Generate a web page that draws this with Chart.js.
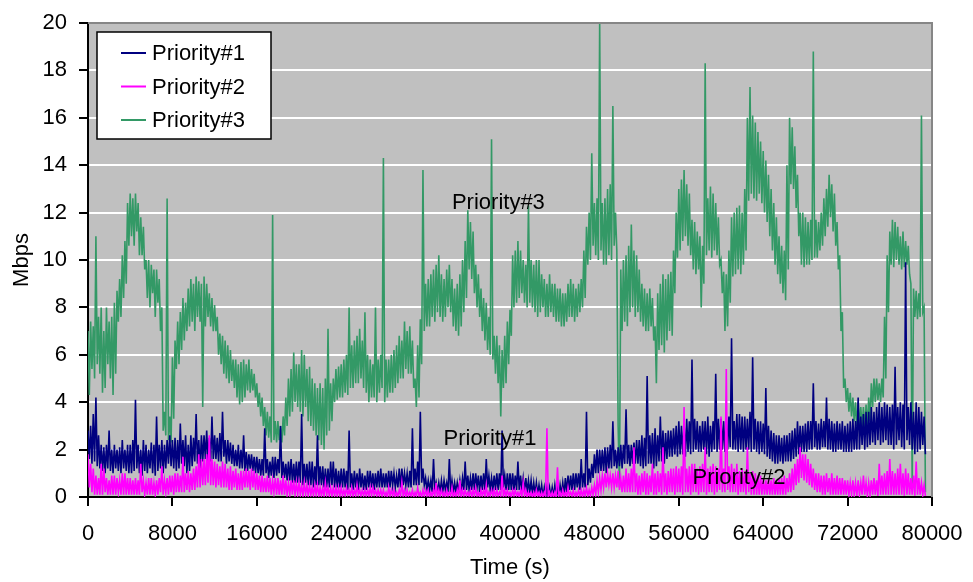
<!DOCTYPE html>
<html>
<head>
<meta charset="utf-8">
<title>Priority traffic</title>
<script src="https://cdn.jsdelivr.net/npm/chart.js@4.4.1/dist/chart.umd.min.js"></script>
<style>
  html, body { margin: 0; padding: 0; background: #fff; }
  canvas { display: block; }
</style>
</head>
<body>
<canvas id="myChart" width="973" height="582"></canvas>
<script>
// Readings every 250 s: top and bottom of each trace's band at that time.
// Each reading pair is plotted as two points 125 s apart, as in the dense trace.
const sampleStep = 250;

const priority1Upper = [
  2.8, 3.0, 3.5, 4.2, 2.6, 2.2, 2.1, 2.2, 2.8, 2.0, 2.2, 2.0, 2.1, 2.4, 2.0, 2.2,
  2.2, 2.4, 4.1, 2.2, 2.0, 2.4, 2.2, 2.0, 2.3, 2.2, 3.4, 2.2, 2.4, 2.2, 2.4, 2.6,
  2.4, 2.5, 2.4, 3.1, 2.4, 2.6, 2.2, 2.6, 2.5, 3.5, 2.4, 2.6, 2.6, 2.8, 2.5, 3.4,
  2.6, 2.5, 2.7, 3.6, 2.4, 2.4, 2.3, 2.2, 2.0, 2.2, 2.0, 2.6, 1.9, 1.8, 1.8, 1.7,
  1.7, 1.6, 1.6, 2.9, 1.6, 1.5, 1.7, 1.7, 1.6, 3.0, 1.5, 1.4, 1.5, 1.6, 1.4, 1.5,
  1.5, 3.5, 1.4, 1.4, 1.5, 1.5, 1.3, 2.6, 1.3, 1.3, 1.2, 1.2, 1.5, 1.5, 1.2, 1.1,
  1.2, 1.2, 1.1, 2.8, 1.0, 1.1, 1.0, 1.2, 1.0, 0.9, 1.1, 1.1, 1.0, 1.0, 1.1, 1.2,
  1.0, 1.0, 1.1, 1.1, 1.0, 0.9, 1.2, 1.2, 1.0, 1.0, 1.1, 2.9, 1.2, 1.5, 3.6, 1.2,
  0.8, 0.7, 0.7, 1.6, 0.6, 0.6, 0.7, 0.7, 0.6, 1.6, 0.7, 0.6, 0.6, 0.7, 0.8, 1.5,
  0.9, 0.8, 1.0, 1.0, 0.9, 0.9, 1.0, 1.6, 0.9, 0.8, 0.9, 1.0, 1.0, 2.8, 0.9, 1.0,
  1.0, 1.0, 0.9, 1.5, 0.9, 0.8, 0.8, 0.7, 0.7, 0.6, 0.6, 0.5, 0.5, 0.4, 0.4, 0.4,
  0.4, 0.5, 0.4, 0.5, 0.6, 0.8, 0.9, 0.9, 1.0, 1.0, 1.0, 1.6, 1.0, 3.6, 1.2, 1.4,
  1.8, 2.0, 2.0, 2.0, 2.1, 2.1, 2.2, 3.2, 2.0, 2.1, 2.2, 2.2, 3.7, 2.2, 2.2, 2.3,
  2.4, 2.4, 2.6, 2.5, 5.1, 2.6, 2.7, 2.9, 2.6, 3.4, 2.8, 2.7, 2.8, 2.8, 2.9, 3.0,
  3.2, 3.0, 3.1, 3.3, 3.2, 5.8, 3.3, 3.2, 3.0, 3.2, 3.2, 3.4, 3.0, 3.2, 5.2, 3.3,
  3.3, 3.2, 3.4, 3.4, 6.7, 3.2, 3.5, 3.5, 3.4, 3.4, 3.3, 3.6, 5.9, 3.3, 3.2, 3.2,
  3.1, 4.6, 3.0, 2.8, 2.7, 2.6, 2.6, 2.5, 2.6, 2.6, 2.7, 2.8, 2.9, 3.2, 3.0, 3.0,
  3.1, 3.2, 3.2, 4.8, 3.2, 3.1, 3.3, 3.2, 4.2, 3.3, 3.2, 3.1, 3.2, 3.1, 3.2, 3.0,
  3.1, 3.2, 3.3, 3.2, 4.2, 3.4, 3.5, 3.6, 3.6, 3.8, 3.6, 3.8, 4.0, 3.8, 4.0, 3.9,
  3.8, 3.9, 5.5, 3.8, 4.0, 3.9, 9.9, 3.8, 4.0, 3.6, 4.0, 3.8, 3.6, 3.4
];
const priority1Lower = [
  1.6, 1.4, 1.5, 1.3, 1.2, 1.1, 1.0, 1.2, 1.1, 1.0, 1.2, 1.1, 1.0, 1.2, 1.1, 1.0,
  1.0, 1.1, 1.2, 1.0, 0.9, 1.1, 1.0, 1.2, 1.0, 0.9, 1.1, 1.2, 1.0, 1.2, 1.4, 1.3,
  1.2, 1.1, 1.2, 1.4, 1.3, 1.0, 1.1, 1.3, 1.5, 1.4, 1.2, 1.5, 1.6, 1.5, 1.5, 1.6,
  1.6, 1.5, 1.5, 1.7, 1.4, 1.5, 1.4, 1.3, 1.3, 1.2, 1.2, 1.1, 1.1, 1.2, 1.1, 1.0,
  1.0, 0.9, 0.9, 1.0, 0.8, 0.9, 0.8, 0.9, 1.0, 0.8, 0.8, 0.7, 0.7, 0.6, 0.6, 0.6,
  0.6, 0.5, 0.6, 0.5, 0.5, 0.4, 0.5, 0.5, 0.5, 0.4, 0.4, 0.4, 0.5, 0.4, 0.4, 0.4,
  0.4, 0.4, 0.3, 0.4, 0.3, 0.4, 0.3, 0.4, 0.3, 0.3, 0.4, 0.4, 0.3, 0.4, 0.4, 0.4,
  0.4, 0.4, 0.4, 0.5, 0.4, 0.4, 0.4, 0.5, 0.5, 0.4, 0.4, 0.5, 0.5, 0.5, 0.6, 0.5,
  0.3, 0.3, 0.2, 0.3, 0.2, 0.2, 0.2, 0.3, 0.2, 0.2, 0.2, 0.2, 0.2, 0.2, 0.3, 0.3,
  0.3, 0.3, 0.3, 0.4, 0.2, 0.3, 0.3, 0.4, 0.3, 0.3, 0.3, 0.3, 0.3, 0.4, 0.3, 0.3,
  0.3, 0.3, 0.3, 0.3, 0.3, 0.2, 0.2, 0.2, 0.1, 0.1, 0.1, 0.1, 0.0, 0.0, 0.0, 0.0,
  0.0, 0.0, 0.0, 0.1, 0.1, 0.2, 0.3, 0.3, 0.3, 0.4, 0.3, 0.4, 0.4, 0.5, 0.6, 0.8,
  1.0, 1.0, 1.1, 1.1, 1.0, 1.2, 1.2, 1.3, 1.2, 1.3, 1.2, 1.4, 1.4, 1.3, 1.4, 1.4,
  1.4, 1.3, 1.2, 1.3, 1.4, 1.4, 1.2, 1.3, 1.5, 1.5, 1.4, 1.6, 1.7, 1.7, 1.8, 1.7,
  1.8, 1.8, 1.7, 1.9, 1.8, 1.9, 2.0, 1.9, 1.9, 2.0, 1.8, 1.7, 1.9, 2.0, 1.9, 2.0,
  2.0, 1.9, 2.0, 2.1, 2.0, 2.0, 1.9, 2.0, 1.9, 2.0, 2.0, 1.9, 2.0, 1.9, 1.8, 1.9,
  1.8, 1.7, 1.6, 1.5, 1.4, 1.4, 1.5, 1.4, 1.5, 1.5, 1.5, 1.6, 1.7, 1.8, 1.9, 1.9,
  1.9, 2.0, 2.0, 2.1, 2.0, 2.0, 2.1, 2.1, 2.0, 2.0, 1.9, 1.9, 2.0, 2.0, 1.9, 1.9,
  1.9, 1.9, 2.0, 2.0, 2.0, 2.2, 2.0, 2.1, 2.2, 2.3, 2.2, 2.4, 2.2, 2.3, 2.4, 2.2,
  2.2, 2.0, 2.2, 2.4, 2.1, 2.0, 2.4, 2.2, 2.0, 1.8, 1.9, 2.0, 2.2, 1.8
];

const priority2Upper = [
  1.8, 1.4, 1.2, 0.9, 0.8, 1.4, 1.2, 0.8, 0.7, 0.9, 0.9, 0.8, 0.7, 1.0, 1.0, 0.8,
  0.8, 0.7, 0.8, 0.7, 1.4, 0.7, 0.6, 0.8, 0.8, 0.6, 0.7, 0.8, 1.3, 0.7, 0.8, 0.9,
  0.9, 1.0, 1.0, 0.9, 1.7, 1.0, 1.1, 1.0, 1.2, 1.3, 1.8, 1.6, 1.6, 1.8, 2.6, 1.6,
  1.5, 1.4, 1.3, 1.5, 1.4, 1.2, 1.3, 1.1, 1.2, 1.0, 1.1, 1.1, 1.2, 1.1, 1.2, 1.1,
  1.0, 0.9, 0.9, 0.8, 0.9, 0.8, 0.7, 0.8, 0.8, 0.7, 0.9, 0.7, 0.6, 0.7, 0.7, 0.6,
  0.6, 0.5, 0.6, 0.5, 0.5, 0.4, 0.5, 0.5, 0.4, 0.4, 0.6, 0.4, 0.4, 0.4, 0.4, 0.4,
  0.4, 0.3, 0.4, 0.3, 0.4, 0.3, 0.5, 0.3, 0.3, 0.3, 0.3, 0.4, 0.4, 0.3, 0.3, 0.3,
  0.3, 0.2, 0.4, 0.3, 0.3, 0.2, 0.3, 0.6, 0.3, 0.3, 0.2, 0.3, 0.2, 0.4, 0.2, 0.3,
  0.3, 0.3, 0.2, 0.3, 0.6, 0.3, 0.3, 0.2, 0.3, 0.2, 0.4, 0.2, 0.3, 0.7, 0.3, 0.3,
  0.2, 0.3, 0.3, 0.4, 0.2, 0.3, 0.3, 0.5, 0.2, 0.3, 0.3, 0.3, 0.2, 0.9, 0.3, 0.3,
  0.2, 0.3, 0.3, 0.2, 0.3, 0.6, 0.3, 0.2, 0.2, 0.2, 0.3, 0.2, 0.2, 0.2, 2.9, 0.2,
  0.2, 0.2, 1.25, 0.2, 0.3, 0.2, 0.4, 0.2, 0.3, 0.2, 0.3, 0.3, 0.3, 0.4, 0.3, 0.4,
  0.5, 0.7, 0.8, 0.9, 1.0, 1.0, 0.9, 1.0, 0.9, 1.1, 0.8, 0.9, 1.2, 1.0, 1.2, 2.1,
  1.0, 0.9, 1.0, 1.1, 1.0, 0.9, 1.4, 1.0, 1.1, 1.0, 2.1, 1.0, 1.1, 1.2, 1.2, 1.3,
  1.2, 1.3, 3.8, 1.2, 1.3, 1.4, 1.4, 1.2, 1.3, 1.4, 2.1, 1.2, 1.3, 1.4, 1.3, 1.2,
  3.4, 1.2, 5.4, 1.3, 1.4, 1.2, 1.4, 1.1, 1.2, 1.1, 2.1, 1.0, 1.1, 1.0, 0.9, 0.9,
  0.8, 0.7, 0.8, 0.7, 0.8, 0.7, 0.8, 0.8, 0.9, 0.8, 1.0, 1.2, 1.4, 1.6, 2.1, 1.8,
  1.8, 1.6, 1.4, 1.2, 1.0, 1.0, 0.9, 0.9, 1.0, 0.8, 1.0, 0.8, 0.9, 0.8, 0.8, 0.7,
  0.7, 0.6, 0.7, 0.6, 0.7, 0.6, 0.9, 0.6, 0.6, 0.7, 0.8, 0.7, 1.4, 0.9, 1.0, 1.1,
  1.6, 1.1, 1.0, 1.2, 1.4, 1.0, 1.2, 1.0, 0.8, 0.9, 1.5, 0.8, 0.6, 0.5
];
const priority2Lower = [
  0.4, 0.2, 0.1, 0.1, 0.1, 0.1, 0.2, 0.1, 0.1, 0.1, 0.1, 0.2, 0.1, 0.1, 0.1, 0.1,
  0.1, 0.1, 0.1, 0.1, 0.2, 0.1, 0.1, 0.1, 0.1, 0.1, 0.1, 0.2, 0.1, 0.2, 0.1, 0.2,
  0.1, 0.2, 0.2, 0.2, 0.2, 0.3, 0.2, 0.3, 0.3, 0.4, 0.4, 0.5, 0.5, 0.6, 0.5, 0.5,
  0.4, 0.5, 0.4, 0.4, 0.4, 0.3, 0.3, 0.4, 0.3, 0.3, 0.3, 0.4, 0.4, 0.3, 0.4, 0.3,
  0.3, 0.2, 0.2, 0.2, 0.2, 0.1, 0.2, 0.1, 0.1, 0.1, 0.1, 0.1, 0.1, 0.1, 0.1, 0.1,
  0.1, 0.05, 0.1, 0.05, 0.1, 0.05, 0.1, 0.05, 0.05, 0.05, 0.1, 0.05, 0.05, 0.05, 0.05, 0.05,
  0.05, 0.05, 0.1, 0.05, 0.05, 0.05, 0.1, 0.05, 0.05, 0.05, 0.05, 0.05, 0.1, 0.05, 0.05, 0.05,
  0.05, 0.0, 0.05, 0.05, 0.0, 0.05, 0.05, 0.05, 0.0, 0.05, 0.05, 0.0, 0.05, 0.05, 0.0, 0.05,
  0.05, 0.0, 0.05, 0.05, 0.0, 0.05, 0.05, 0.0, 0.05, 0.05, 0.0, 0.05, 0.05, 0.0, 0.05, 0.05,
  0.05, 0.0, 0.05, 0.05, 0.0, 0.05, 0.05, 0.0, 0.05, 0.05, 0.0, 0.05, 0.05, 0.0, 0.05, 0.05,
  0.0, 0.05, 0.05, 0.0, 0.05, 0.05, 0.0, 0.05, 0.0, 0.0, 0.05, 0.0, 0.0, 0.05, 0.0, 0.0,
  0.0, 0.0, 0.05, 0.0, 0.05, 0.0, 0.05, 0.05, 0.0, 0.05, 0.05, 0.0, 0.05, 0.05, 0.05, 0.1,
  0.1, 0.2, 0.3, 0.4, 0.4, 0.5, 0.4, 0.4, 0.4, 0.3, 0.2, 0.2, 0.2, 0.2, 0.2, 0.2,
  0.1, 0.1, 0.2, 0.1, 0.1, 0.2, 0.1, 0.1, 0.2, 0.1, 0.2, 0.1, 0.2, 0.2, 0.1, 0.2,
  0.2, 0.1, 0.2, 0.2, 0.1, 0.2, 0.2, 0.1, 0.2, 0.2, 0.1, 0.2, 0.2, 0.1, 0.2, 0.3,
  0.2, 0.2, 0.3, 0.2, 0.2, 0.2, 0.1, 0.2, 0.2, 0.1, 0.2, 0.1, 0.1, 0.1, 0.1, 0.1,
  0.1, 0.1, 0.1, 0.1, 0.1, 0.1, 0.1, 0.1, 0.1, 0.2, 0.2, 0.3, 0.5, 0.6, 0.8, 0.7,
  0.6, 0.5, 0.4, 0.3, 0.2, 0.2, 0.1, 0.1, 0.2, 0.1, 0.1, 0.1, 0.1, 0.1, 0.1, 0.1,
  0.1, 0.1, 0.1, 0.05, 0.1, 0.1, 0.1, 0.05, 0.1, 0.1, 0.1, 0.05, 0.1, 0.1, 0.1, 0.1,
  0.1, 0.1, 0.1, 0.1, 0.1, 0.05, 0.1, 0.1, 0.1, 0.05, 0.1, 0.1, 0.1, 0.05
];

const priority3Upper = [
  7.0, 7.4, 7.2, 11.0, 7.6, 8.0, 7.0, 8.0, 7.4, 7.6, 8.2, 8.7, 9.2, 10.2, 10.8, 12.4,
  12.8, 12.6, 12.8, 12.4, 11.8, 11.4, 10.0, 10.0, 9.8, 9.6, 9.6, 9.2, 8.0, 3.6, 12.6, 3.4,
  5.9, 6.6, 7.4, 7.8, 8.4, 8.2, 8.8, 9.2, 9.0, 9.3, 9.1, 9.0, 9.3, 9.0, 8.6, 8.4,
  8.1, 7.6, 6.9, 6.8, 6.6, 6.4, 6.2, 5.8, 5.8, 5.6, 5.7, 5.8, 5.6, 5.8, 5.4, 5.2,
  4.8, 4.4, 4.2, 3.8, 3.6, 3.4, 11.9, 3.2, 3.2, 3.0, 3.4, 4.2, 5.0, 5.4, 6.1, 5.6,
  5.6, 6.2, 6.0, 5.4, 5.5, 5.0, 4.8, 4.6, 4.8, 4.6, 5.0, 7.1, 4.8, 5.0, 5.4, 5.5,
  5.6, 5.8, 6.0, 8.0, 6.4, 6.6, 6.8, 7.1, 6.6, 7.8, 6.0, 5.8, 5.6, 8.0, 5.8, 6.0,
  14.3, 5.8, 5.8, 6.0, 6.2, 6.4, 6.8, 6.6, 7.4, 7.0, 7.2, 6.6, 5.0, 6.4, 7.5, 13.8,
  9.0, 9.2, 9.4, 9.6, 9.8, 10.2, 9.4, 9.2, 9.6, 9.8, 9.2, 8.8, 9.0, 9.4, 10.0, 10.8,
  12.1, 11.6, 11.2, 9.8, 9.4, 8.8, 8.4, 8.2, 7.6, 15.1, 6.8, 6.8, 6.4, 6.2, 6.8, 7.4,
  7.9, 10.2, 10.4, 10.8, 10.4, 10.0, 9.8, 12.3, 10.0, 9.8, 10.0, 10.0, 9.4, 9.2, 9.0, 9.4,
  9.0, 9.0, 8.8, 8.8, 8.6, 8.6, 9.0, 9.2, 9.0, 8.8, 9.0, 9.2, 10.4, 11.4, 12.0, 14.5,
  12.4, 12.6, 20.0, 12.4, 12.6, 13.0, 13.2, 16.5, 12.0, 3.0, 9.6, 10.0, 10.2, 10.6, 11.5, 10.4,
  10.2, 9.6, 9.0, 8.8, 8.6, 8.8, 8.4, 7.2, 8.6, 9.0, 9.4, 9.2, 9.4, 9.5, 10.4, 12.0,
  13.0, 13.4, 13.8, 13.2, 12.8, 11.7, 11.6, 11.2, 11.0, 10.6, 18.3, 12.6, 13.1, 12.8, 12.4, 11.8,
  10.0, 9.5, 9.4, 10.4, 11.8, 12.0, 12.2, 12.3, 12.0, 13.0, 16.0, 17.3, 16.1, 15.8, 15.4, 15.0,
  14.6, 14.2, 13.6, 13.0, 12.4, 11.8, 11.0, 10.6, 10.4, 14.0, 16.0, 15.6, 14.8, 13.6, 12.0, 12.0,
  11.8, 11.6, 11.7, 18.8, 11.7, 11.6, 12.0, 12.6, 13.0, 13.6, 13.2, 12.8, 11.6, 10.2, 7.8, 5.0,
  4.6, 4.4, 4.2, 4.0, 4.0, 3.8, 3.8, 3.9, 4.2, 4.8, 5.0, 5.0, 4.8, 5.0, 7.6, 10.2,
  11.2, 11.7, 11.6, 11.4, 11.0, 11.2, 10.8, 10.6, 9.0, 8.8, 8.7, 8.6, 16.1, 8.0
];
const priority3Lower = [
  4.3, 5.4, 5.0, 5.6, 5.2, 4.4, 4.6, 5.6, 5.0, 4.3, 5.2, 7.4, 7.6, 8.4, 9.0, 10.6,
  11.0, 10.6, 11.2, 10.2, 10.2, 9.6, 8.4, 8.0, 8.6, 7.6, 8.2, 7.0, 2.8, 2.6, 2.4, 2.3,
  3.3, 5.4, 5.6, 6.2, 6.6, 7.0, 7.2, 7.4, 7.0, 7.6, 7.4, 3.8, 7.2, 7.6, 7.2, 7.0,
  7.0, 6.0, 5.6, 5.2, 5.0, 4.8, 4.9, 4.6, 4.2, 3.9, 4.0, 4.2, 4.5, 4.4, 4.5, 4.2,
  3.8, 3.4, 3.0, 2.6, 2.5, 2.3, 2.4, 2.3, 2.4, 2.3, 2.6, 3.0, 3.4, 3.6, 4.0, 3.8,
  3.6, 3.4, 3.8, 3.2, 3.0, 2.8, 2.6, 2.4, 2.2, 2.0, 2.6, 2.8, 3.2, 4.0, 4.1, 4.2,
  4.2, 4.4, 4.3, 4.6, 4.6, 4.8, 4.8, 5.0, 4.6, 4.4, 4.0, 4.2, 4.2, 4.0, 4.4, 4.6,
  4.0, 4.2, 4.4, 4.4, 4.6, 4.8, 5.0, 5.0, 5.4, 5.2, 5.2, 4.6, 3.8, 4.2, 5.6, 7.0,
  7.2, 7.2, 7.6, 7.4, 7.8, 7.6, 7.4, 7.6, 8.0, 7.8, 7.2, 7.0, 6.8, 7.2, 7.8, 8.4,
  9.6, 9.2, 8.6, 8.0, 7.6, 7.0, 6.6, 6.2, 6.0, 5.8, 5.2, 4.8, 3.4, 4.6, 4.8, 5.6,
  6.8, 8.0, 8.2, 8.4, 8.6, 8.2, 8.0, 8.2, 8.0, 7.8, 7.6, 7.8, 8.0, 7.6, 7.6, 7.8,
  7.6, 7.4, 7.4, 7.2, 7.2, 7.4, 7.6, 7.6, 7.4, 7.6, 7.8, 8.0, 8.4, 9.8, 10.0, 10.6,
  10.2, 10.0, 10.4, 9.8, 9.8, 10.2, 10.0, 10.6, 10.4, 0.4, 7.0, 7.4, 7.2, 7.8, 8.0, 7.6,
  7.8, 7.4, 7.2, 7.0, 7.0, 7.2, 6.6, 4.8, 6.2, 6.4, 6.1, 6.6, 7.0, 6.8, 8.6, 10.1,
  10.4, 10.8, 11.0, 10.6, 10.2, 9.6, 9.4, 9.6, 8.0, 9.0, 10.2, 10.4, 10.1, 10.4, 10.2, 9.8,
  8.6, 7.0, 7.2, 8.2, 9.3, 9.4, 9.6, 9.4, 9.8, 10.4, 12.5, 12.8, 12.6, 12.5, 12.8, 12.4,
  12.0, 11.6, 11.0, 10.4, 9.8, 9.4, 9.0, 8.6, 8.3, 9.6, 13.2, 13.0, 12.2, 11.0, 9.8, 9.7,
  9.8, 9.8, 10.0, 10.1, 10.1, 10.4, 10.6, 11.0, 11.4, 11.8, 11.2, 10.6, 9.6, 7.0, 4.6, 4.0,
  3.6, 3.4, 3.2, 3.0, 3.0, 2.9, 2.8, 2.9, 3.2, 3.8, 4.0, 4.1, 4.0, 4.2, 5.0, 7.8,
  9.8, 9.7, 10.0, 9.8, 9.6, 9.7, 9.8, 9.4, 0.3, 7.6, 7.5, 7.6, 7.8, 0.2
];

const xTickValues = [0, 8000, 16000, 24000, 32000, 40000, 48000, 56000, 64000, 72000, 80000];
const yTickValues = [0, 2, 4, 6, 8, 10, 12, 14, 16, 18, 20];

const seriesNames = ["Priority#1", "Priority#2", "Priority#3"];
const seriesColors = ["#000080", "#ff00ff", "#339966"];
const drawOrder = [2, 1, 3]; // green at the back, magenta on top

const inlineLabels = [
  { text: "Priority#3", x: 38900, y: 12.4 },
  { text: "Priority#1", x: 38100, y: 2.45 },
  { text: "Priority#2", x: 61700, y: 0.8 },
];

const FONT = "'Liberation Sans', Arial, sans-serif";
const FONT_SIZE = 22;

// band readings -> trace points: top at t, bottom at t + half a step
function toTrace(upper, lower) {
  const pts = [];
  upper.forEach((hi, i) => {
    const t = i * sampleStep;
    pts.push({ x: t, y: hi });
    pts.push({ x: t + sampleStep / 2, y: lower[i] });
  });
  return pts;
}

const plotFrame = {
  id: "plotFrame",
  beforeDraw(chart) {
    const { ctx, chartArea: a } = chart;
    ctx.save();
    ctx.fillStyle = "#c0c0c0";
    ctx.fillRect(a.left, a.top, a.right - a.left, a.bottom - a.top);
    ctx.restore();
  },
  afterDraw(chart) {
    const { ctx, chartArea: a, scales } = chart;
    ctx.save();

    // grey frame on top and right
    ctx.strokeStyle = "#868686";
    ctx.lineWidth = 2;
    ctx.beginPath();
    ctx.moveTo(a.left, a.top);
    ctx.lineTo(a.right, a.top);
    ctx.lineTo(a.right, a.bottom);
    ctx.stroke();

    // text labels inside the plot
    ctx.font = FONT_SIZE + "px " + FONT;
    ctx.fillStyle = "#000";
    ctx.textAlign = "center";
    ctx.textBaseline = "middle";
    inlineLabels.forEach((l) => {
      ctx.fillText(l.text, scales.x.getPixelForValue(l.x), scales.y.getPixelForValue(l.y));
    });

    // legend box
    const bx = a.left + 9;
    const by = a.top + 9;
    ctx.fillStyle = "#fff";
    ctx.fillRect(bx, by, 174, 107);
    ctx.strokeStyle = "#000";
    ctx.lineWidth = 1.5;
    ctx.strokeRect(bx, by, 174, 107);
    ctx.textAlign = "left";
    chart.data.datasets.forEach((ds, i) => {
      const cy = by + 21 + i * 33.5;
      ctx.strokeStyle = ds.borderColor;
      ctx.lineWidth = 2;
      ctx.beginPath();
      ctx.moveTo(bx + 24, cy);
      ctx.lineTo(bx + 49, cy);
      ctx.stroke();
      ctx.fillStyle = "#000";
      ctx.fillText(ds.label, bx + 55, cy + 1);
    });
    ctx.restore();
  },
};

const seriesTraces = [
  toTrace(priority1Upper, priority1Lower),
  toTrace(priority2Upper, priority2Lower),
  toTrace(priority3Upper, priority3Lower),
];

new Chart("myChart", {
  type: "line",
  data: {
    datasets: seriesNames.map((name, i) => ({
      label: name,
      data: seriesTraces[i],
      borderColor: seriesColors[i],
      borderWidth: 1.6,
      pointRadius: 0,
      tension: 0,
      fill: false,
      order: drawOrder[i],
    })),
  },
  options: {
    responsive: false,
    animation: false,
    events: [],
    layout: { padding: { top: 23, right: 41, left: 0, bottom: 0 } },
    plugins: {
      legend: { display: false },
      tooltip: { enabled: false },
    },
    scales: {
      x: {
        type: "linear",
        min: 0,
        max: 80000,
        afterBuildTicks: (scale) => {
          scale.ticks = xTickValues.map((v) => ({ value: v }));
        },
        afterFit: (scale) => {
          scale.height = 85;
          scale.paddingLeft = 0;
          scale.paddingRight = 0;
        },
        ticks: {
          callback: (v) => String(v),
          color: "#000",
          padding: 15,
          maxRotation: 0,
          autoSkip: false,
          font: { family: FONT, size: FONT_SIZE },
        },
        grid: {
          drawOnChartArea: false,
          color: "#000",
          tickLength: 9,
          lineWidth: 2,
        },
        border: { color: "#000", width: 2 },
        title: {
          display: true,
          text: "Time (s)",
          color: "#000",
          font: { family: FONT, size: FONT_SIZE, lineHeight: 1.2 },
          padding: { top: 0, bottom: 1 },
        },
      },
      y: {
        min: 0,
        max: 20,
        afterBuildTicks: (scale) => {
          scale.ticks = yTickValues.map((v) => ({ value: v }));
        },
        afterFit: (scale) => {
          scale.width = 88;
          scale.paddingTop = 0;
          scale.paddingBottom = 0;
        },
        ticks: {
          color: "#000",
          padding: 12,
          font: { family: FONT, size: FONT_SIZE },
        },
        grid: {
          color: "#ffffff",
          tickColor: "#000",
          tickLength: 9,
          lineWidth: 2,
        },
        border: { color: "#000", width: 2 },
        title: {
          display: true,
          text: "Mbps",
          color: "#000",
          font: { family: FONT, size: FONT_SIZE, lineHeight: 1.2 },
          padding: { top: 9, bottom: 0 },
        },
      },
    },
  },
  plugins: [plotFrame],
});
</script>
</body>
</html>
